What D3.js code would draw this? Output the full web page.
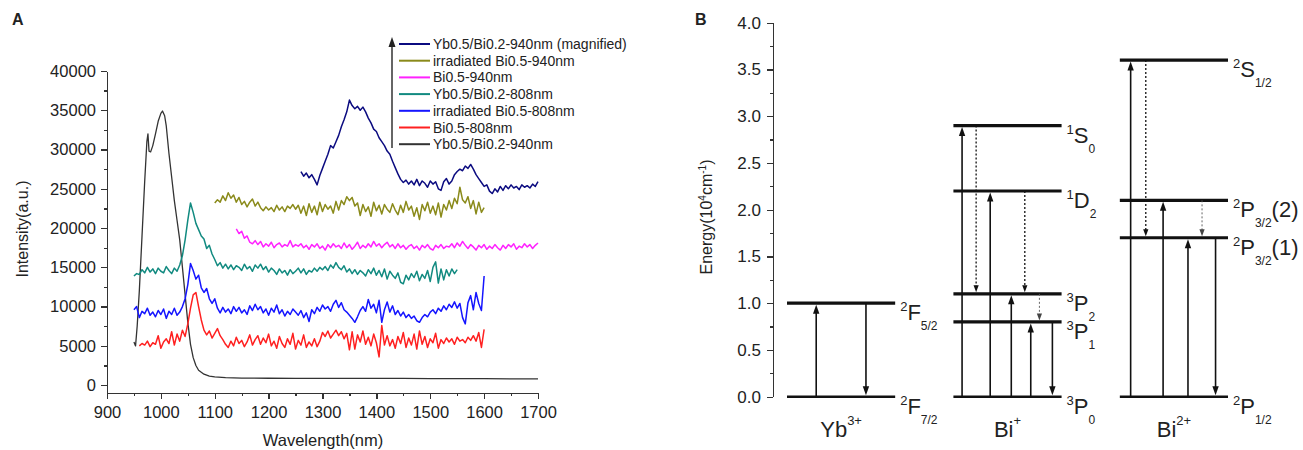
<!DOCTYPE html>
<html lang="en">
<head>
<meta charset="UTF-8">
<title>Emission spectra and energy levels</title>
<script src="https://d3js.org/d3.v7.min.js"></script>
<style>
  body { margin: 0; background: #fff; }
  svg text { font-family: "Liberation Sans", Arial, sans-serif; fill: #222; }
  .axis path, .axis line { stroke: #333; stroke-width: 1.3; fill: none; shape-rendering: crispEdges; }
  .axis text { fill: #222; }
</style>
</head>
<body>
<svg width="1303" height="450"></svg>
<script>
// ---------- panel A: emission spectra ----------
// legend order, top to bottom
var seriesNames = ["Yb0.5/Bi0.2-940nm (magnified)", "irradiated Bi0.5-940nm", "Bi0.5-940nm",
                   "Yb0.5/Bi0.2-808nm", "irradiated Bi0.5-808nm", "Bi0.5-808nm", "Yb0.5/Bi0.2-940nm"];
var seriesColors = ["#0b0b80", "#8a8a1a", "#ff22ff", "#118a80", "#1515ff", "#ff2020", "#333333"];

// evenly sampled spectra: [first nm, last nm] + intensities
var navyRange = [1260, 1700];
var navyVals = [27200, 26600, 27000, 26400, 26800, 26200, 25500, 26700, 27600, 28500, 29400, 30500, 30200, 31000,
  31800, 32900, 33800, 34800, 36300, 35600, 35200, 35500, 35000, 35400, 34800, 34000, 33400, 32600, 32300, 31500,
  31000, 30500, 29800, 29400, 28500, 27700, 26900, 26200, 25800, 26100, 25600, 26000, 25500, 26200, 25400, 26000,
  25700, 25200, 26000, 25600, 25900, 25000, 24800, 25900, 26300, 25600, 26000, 26800, 27200, 27500, 27300, 27900,
  27600, 28100, 27500, 26800, 26300, 25800, 25300, 25500, 24700, 24400, 25000, 24600, 25300, 24800, 25400, 25000,
  25500, 25100, 25300, 24900, 25500, 25200, 25400, 25100, 25600, 25300, 25900];

var oliveRange = [1100, 1600];
var oliveVals = [23200, 23600, 23300, 24100, 23500, 24500, 23800, 24200, 23300, 23900, 23000, 23400, 22700, 23300,
  23700, 22800, 23300, 22600, 22200, 22700, 22300, 22600, 22100, 22900, 22300, 22700, 22100, 22800, 22500, 23000,
  22400, 22900, 21900, 22800, 21600, 23100, 22000, 22800, 21700, 23300, 22100, 23000, 22400, 22800, 21900, 23400,
  22300, 23500, 23000, 24000, 23500, 23900, 22800, 23200, 21600, 23000, 22100, 22700, 21500, 23300, 22200, 22900,
  21800, 23000, 22400, 22000, 23100, 22300, 21700, 22900, 22000, 23400, 22300, 22800, 21500, 22600, 21100, 23000,
  22200, 23300, 21900, 22800, 21700, 23200, 21400, 23000, 22300, 23500, 22500, 23800, 23100, 25200, 23600, 23200,
  24000, 22500, 23500, 21800, 23300, 22000, 22600];

var magentaRange = [1140, 1700];
var magentaVals = [19900, 19300, 19600, 18700, 19000, 18200, 18000, 18400, 17900, 18300, 17600, 18000, 17700, 18200,
  17500, 17900, 18100, 17600, 17900, 17700, 18400, 17600, 17900, 17700, 18000, 17500, 17800, 17300, 17900, 17600,
  18000, 17400, 17700, 17200, 17900, 17500, 18000, 17600, 17800, 17400, 18100, 17500, 17900, 17300, 17700, 18200,
  17400, 17800, 17500, 18000, 17600, 18300, 17700, 18000, 17500, 17900, 18200, 17600, 17900, 17400, 18000, 17500,
  17800, 17300, 17700, 17900, 17400, 17700, 17200, 17800, 17500, 17900, 17400, 17200, 17800, 17500, 17900, 17400,
  17700, 17600, 18000, 17500, 18100, 17700, 18300, 17800, 17400, 17900, 17600, 17200, 17800, 17500, 17900, 17300,
  17700, 17400, 17900, 17500, 17200, 17800, 17400, 17900, 17600, 18000, 17300, 17700, 17500, 18000, 17600, 17900,
  17400, 17800, 18100];

var tealRange = [950, 1550];
var tealVals = [13900, 14200, 14100, 14700, 14300, 15000, 14400, 14800, 14200, 14900, 14500, 14300, 15100, 14600,
  14200, 14900, 14500, 15300, 16500, 18500, 21000, 23200, 22000, 20600, 19800, 19000, 18600, 17400, 17800, 16700,
  16000, 15200, 15600, 14900, 15400, 14800, 15300, 14700, 15200, 15000, 14600, 15400, 14800, 15100, 14500, 15300,
  14900, 15400, 14700, 15100, 14400, 14900, 14600, 14100, 14800, 14300, 14600, 14000, 14700, 14200, 14500, 14900,
  14300, 14800, 14100, 14600, 14400, 14900, 14500, 15000, 14700, 15100, 14600, 15300, 14900, 15600, 15000, 14700,
  15200, 14400, 14800, 14200, 14700, 14100, 14600, 14300, 13900, 14700, 14200, 14900, 14000, 14600, 13800, 14800,
  13500, 14500, 14000, 13600, 14300, 13100, 12900, 14000, 13400, 14200, 13700, 14500, 13300, 14100, 13600, 14600,
  13200, 15000, 15700, 13000, 14800, 13400, 14700, 13900, 14800, 14200, 14700];

var blueRange = [950, 1600];
var blueVals = [9600, 10000, 8600, 9400, 9100, 9800, 8900, 9300, 8700, 9500, 9000, 9700, 8500, 9400, 9000, 9800,
  8900, 9300, 10000, 11000, 12800, 15500, 14600, 13500, 14000, 12400, 11800, 12300, 11000, 10400, 11000, 9800,
  9200, 9900, 9300, 9700, 9100, 10000, 9400, 9900, 9200, 9600, 9000, 10100, 9500, 10300, 9600, 10000, 9200, 9700,
  8900, 9800, 9300, 10200, 9100, 9600, 8800, 9400, 9000, 9700, 9300, 8900, 9500, 8600, 9200, 8100, 9600, 9100,
  9900, 9400, 10200, 9700, 10000, 9400, 10300, 10800, 9900, 10500, 9600, 9300, 8900, 8500, 8000, 8700, 9500,
  10000, 9400, 10900, 9800, 10300, 9200, 10800, 8000, 9600, 10600, 9300, 10100, 9000, 9500, 8800, 9300, 8600,
  9000, 8500, 8800, 8200, 8000, 8600, 9000, 8700, 9300, 9600, 9100, 9800, 9400, 10100, 9600, 10300, 9900, 10600,
  9800, 10400, 8600, 7800, 10500, 11400, 9600, 11800, 10400, 9500, 13900];

var redRange = [960, 1600];
var redVals = [5000, 5300, 5100, 5600, 4900, 5400, 5200, 6300, 4700, 5500, 5900, 5300, 6800, 5100, 6500, 5600,
  7000, 6200, 7800, 9800, 11500, 11800, 10000, 8300, 7000, 6400, 6900, 6000, 6600, 7200, 6300, 5800, 5200, 4800,
  5600, 5000, 6100, 5300, 5700, 4900, 5500, 6400, 5100, 5800, 6300, 5200, 6000, 5400, 6500, 5000, 5600, 4700,
  6200, 5300, 4800, 5900, 5200, 6600, 4600, 5700, 5100, 6400, 4800, 5500, 5000, 5900, 4900, 5600, 6700, 6200,
  6900, 6000, 6500, 7000, 6300, 6800, 5900, 6600, 4500, 6800, 4600, 6400, 5500, 6900, 5200, 6100, 5000, 6500,
  5400, 3600, 7600, 5100, 6300, 5000, 5800, 4700, 6200, 5300, 6700, 4800, 6000, 5100, 6500, 4600, 6900, 5200,
  6200, 4800, 5900, 5400, 6600, 4700, 5800, 5300, 6000, 5500, 5900, 5200, 6100, 5600, 5800, 5400, 6100, 5700,
  6300, 5600, 6700, 4800, 7100];

// black spectrum, sampled unevenly around the peak
var blackWl = [950, 953, 956, 960, 965, 970, 974, 976, 978, 981, 985, 990, 995, 1000, 1003, 1007, 1010, 1015,
  1020, 1025, 1030, 1035, 1040, 1045, 1050, 1055, 1060, 1065, 1070, 1080, 1090, 1100, 1120, 1150, 1200, 1250,
  1300, 1350, 1400, 1450, 1500, 1550, 1600, 1650, 1700];
var blackVals = [5500, 5000, 7500, 12000, 19000, 26000, 31000, 32000, 29800, 29700, 30500, 32000, 33600, 34600,
  34900, 34300, 33000, 29500, 26500, 23500, 21000, 18500, 15000, 11500, 8000, 5200, 3500, 2500, 1900, 1400,
  1150, 1050, 950, 900, 880, 870, 860, 860, 850, 850, 840, 830, 820, 810, 800];

var xTicksA = d3.range(900, 1701, 100);
var yTicksA = d3.range(0, 40001, 5000);

// ---------- panel B: energy levels (10^4 cm^-1) ----------
var ions = ["Yb", "Bi", "Bi2"];
var ionSups = ["3+", "+", "2+"];
var ionLevels = [[0, 1.0], [0, 0.8, 1.1, 2.2, 2.9], [0, 1.7, 2.1, 3.6]];
var ionTerms = [
  [["2", "F", "7/2"], ["2", "F", "5/2"]],
  [["3", "P", "0"], ["3", "P", "1"], ["3", "P", "2"], ["1", "D", "2"], ["1", "S", "0"]],
  [["2", "P", "1/2"], ["2", "P", "3/2", "(1)"], ["2", "P", "3/2", "(2)"], ["2", "S", "1/2"]]
];
// transitions: [ion, from, to, kind]
var transitions = [
  [0, 0, 1.0, "solid"], [0, 1.0, 0, "solid"],
  [1, 0, 2.9, "solid"], [1, 2.9, 1.1, "dash"], [1, 0, 2.2, "solid"], [1, 0, 1.1, "solid"],
  [1, 2.2, 1.1, "dash"], [1, 0, 0.8, "solid"], [1, 1.1, 0.8, "thin"], [1, 0.8, 0, "solid"],
  [2, 0, 3.6, "solid"], [2, 3.6, 1.7, "dash"], [2, 0, 2.1, "solid"], [2, 0, 1.7, "solid"],
  [2, 2.1, 1.7, "thin"], [2, 1.7, 0, "solid"]
];
// horizontal place of each transition inside its ion column (0..1)
var transitionSlots = [0.27, 0.73, 0.08, 0.21, 0.34, 0.535, 0.66, 0.715, 0.795, 0.915,
                       0.10, 0.24, 0.40, 0.63, 0.76, 0.885];
var yTicksB = d3.range(0, 4.01, 0.5);

var svg = d3.select("svg");

// ================= panel A =================
var xA = d3.scaleLinear().domain([900, 1700]).range([107, 538]);
var yA = d3.scaleLinear().domain([-1000, 40000]).range([393, 71]);

svg.append("text").attr("x", 12).attr("y", 25).attr("font-size", 16)
  .attr("font-weight", "bold").text("A");

var gA = svg.append("g");

gA.append("g").attr("class", "axis")
  .attr("transform", "translate(0,393)")
  .call(d3.axisBottom(xA).tickValues(d3.range(950, 1700, 100)).tickSize(3).tickFormat("").tickSizeOuter(0));
gA.append("g").attr("class", "axis")
  .attr("transform", "translate(0,393)")
  .call(d3.axisBottom(xA).tickValues(xTicksA).tickFormat(d3.format("d")).tickSize(6).tickSizeOuter(0).tickPadding(7))
  .selectAll("text").attr("font-size", 16.5);

gA.append("g").attr("class", "axis")
  .attr("transform", "translate(107,0)")
  .call(d3.axisLeft(yA).tickValues(d3.range(2500, 40000, 5000)).tickSize(3).tickFormat("").tickSizeOuter(0));
gA.append("g").attr("class", "axis")
  .attr("transform", "translate(107,0)")
  .call(d3.axisLeft(yA).tickValues(yTicksA).tickFormat(d3.format("d")).tickSize(6).tickSizeOuter(0).tickPadding(5))
  .selectAll("text").attr("font-size", 16.5);

gA.append("text").attr("transform", "translate(28,229) rotate(-90)")
  .attr("text-anchor", "middle").attr("font-size", 16).text("Intensity(a.u.)");
gA.append("text").attr("x", 323).attr("y", 446)
  .attr("text-anchor", "middle").attr("font-size", 16.5).text("Wavelength(nm)");

function evenSeries(range, vals) {
  var step = (range[1] - range[0]) / (vals.length - 1);
  return vals.map(function(v, i) { return [range[0] + i * step, v]; });
}

var spectra = [
  evenSeries(navyRange, navyVals),
  evenSeries(oliveRange, oliveVals),
  evenSeries(magentaRange, magentaVals),
  evenSeries(tealRange, tealVals),
  evenSeries(blueRange, blueVals),
  evenSeries(redRange, redVals),
  blackWl.map(function(w, i) { return [w, blackVals[i]]; })
];

var line = d3.line().x(function(d) { return xA(d[0]); }).y(function(d) { return yA(d[1]); });

// draw bottom of legend first so the upper curves sit on top
for (var s = spectra.length - 1; s >= 0; s--) {
  gA.append("path").datum(spectra[s])
    .attr("d", line)
    .attr("fill", "none")
    .attr("stroke", seriesColors[s])
    .attr("stroke-width", s === 6 ? 1.3 : 1.5)
    .attr("stroke-linejoin", "round");
}

// legend with the "offset" arrow
var lg = gA.append("g");
lg.append("line").attr("x1", 392).attr("x2", 392).attr("y1", 148).attr("y2", 46)
  .attr("stroke", "#333").attr("stroke-width", 1.5);
lg.append("path").attr("d", "M392,37 L388.5,47 L395.5,47 Z").attr("fill", "#222");
seriesNames.forEach(function(name, i) {
  var y = 44 + i * 16.7;
  lg.append("line").attr("x1", 399).attr("x2", 430).attr("y1", y).attr("y2", y)
    .attr("stroke", seriesColors[i]).attr("stroke-width", 2);
  lg.append("text").attr("x", 433).attr("y", y + 5).attr("font-size", 14).text(name);
});

// ================= panel B =================
var yB = d3.scaleLinear().domain([0, 4]).range([396.7, 22.7]);
var xB = d3.scaleBand().domain(ions).range([787, 1228]).paddingInner(0.35);

svg.append("text").attr("x", 695).attr("y", 25).attr("font-size", 16)
  .attr("font-weight", "bold").text("B");

var gB = svg.append("g");

gB.append("g").attr("class", "axis")
  .attr("transform", "translate(773,0)")
  .call(d3.axisLeft(yB).tickValues(d3.range(0.25, 4, 0.5)).tickSize(3).tickFormat("").tickSizeOuter(0));
gB.append("g").attr("class", "axis")
  .attr("transform", "translate(773,0)")
  .call(d3.axisLeft(yB).tickValues(yTicksB).tickFormat(d3.format(".1f")).tickSize(6).tickSizeOuter(0).tickPadding(6))
  .selectAll("text").attr("font-size", 17);

var yLab = gB.append("text").attr("transform", "translate(712,217) rotate(-90)")
  .attr("text-anchor", "middle").attr("font-size", 16);
yLab.append("tspan").text("Energy(10");
yLab.append("tspan").attr("font-size", 10).attr("dy", -6).text("4");
yLab.append("tspan").attr("dy", 6).text("cm");
yLab.append("tspan").attr("font-size", 10).attr("dy", -6).text("-1");
yLab.append("tspan").attr("dy", 6).text(")");

function termLabel(x, y, t) {
  var txt = gB.append("text").attr("x", x).attr("y", y);
  txt.append("tspan").attr("font-size", 13).attr("dy", 8).text(t[0]);
  txt.append("tspan").attr("font-size", 22).attr("dy", 9).text(t[1]);
  txt.append("tspan").attr("font-size", 12).attr("dy", 10).text(t[2]);
  if (t[3]) txt.append("tspan").attr("font-size", 22).attr("dy", -10).text(t[3]);
}

ions.forEach(function(ion, k) {
  var x0 = xB(ion), w = xB.bandwidth();
  ionLevels[k].forEach(function(e, j) {
    gB.append("line").attr("x1", x0).attr("x2", x0 + w)
      .attr("y1", yB(e)).attr("y2", yB(e))
      .attr("stroke", "#111").attr("stroke-width", e === 0 ? 2.6 : 3.2);
    termLabel(x0 + w + 5, yB(e), ionTerms[k][j]);
  });
  var lab = gB.append("text").attr("x", x0 + w / 2).attr("y", 437)
    .attr("text-anchor", "middle").attr("font-size", 22);
  lab.append("tspan").text(ion.replace("2", ""));
  lab.append("tspan").attr("font-size", 13).attr("dy", -12).text(ionSups[k]);
});

transitions.forEach(function(t, i) {
  var x = xB(ions[t[0]]) + transitionSlots[i] * xB.bandwidth();
  var y1 = yB(t[1]), y2 = yB(t[2]);
  var up = y2 < y1;
  var kind = t[3];
  var hl = kind === "solid" ? 9 : 7, hw = kind === "solid" ? 3.2 : 2.6;
  var yEnd = up ? y2 + hl : y2 - hl;
  gB.append("line").attr("x1", x).attr("x2", x).attr("y1", y1).attr("y2", yEnd)
    .attr("stroke", kind === "thin" ? "#555" : "#111")
    .attr("stroke-width", kind === "solid" ? 1.6 : (kind === "dash" ? 1.3 : 0.9))
    .attr("stroke-dasharray", kind === "solid" ? null : "2,2");
  var tipY = up ? y2 + 1.5 : y2 - 1.5;
  var baseY = up ? tipY + hl : tipY - hl;
  gB.append("path")
    .attr("d", "M" + x + "," + tipY + " L" + (x - hw) + "," + baseY + " L" + (x + hw) + "," + baseY + " Z")
    .attr("fill", kind === "thin" ? "#444" : "#111");
});
</script>
</body>
</html>
